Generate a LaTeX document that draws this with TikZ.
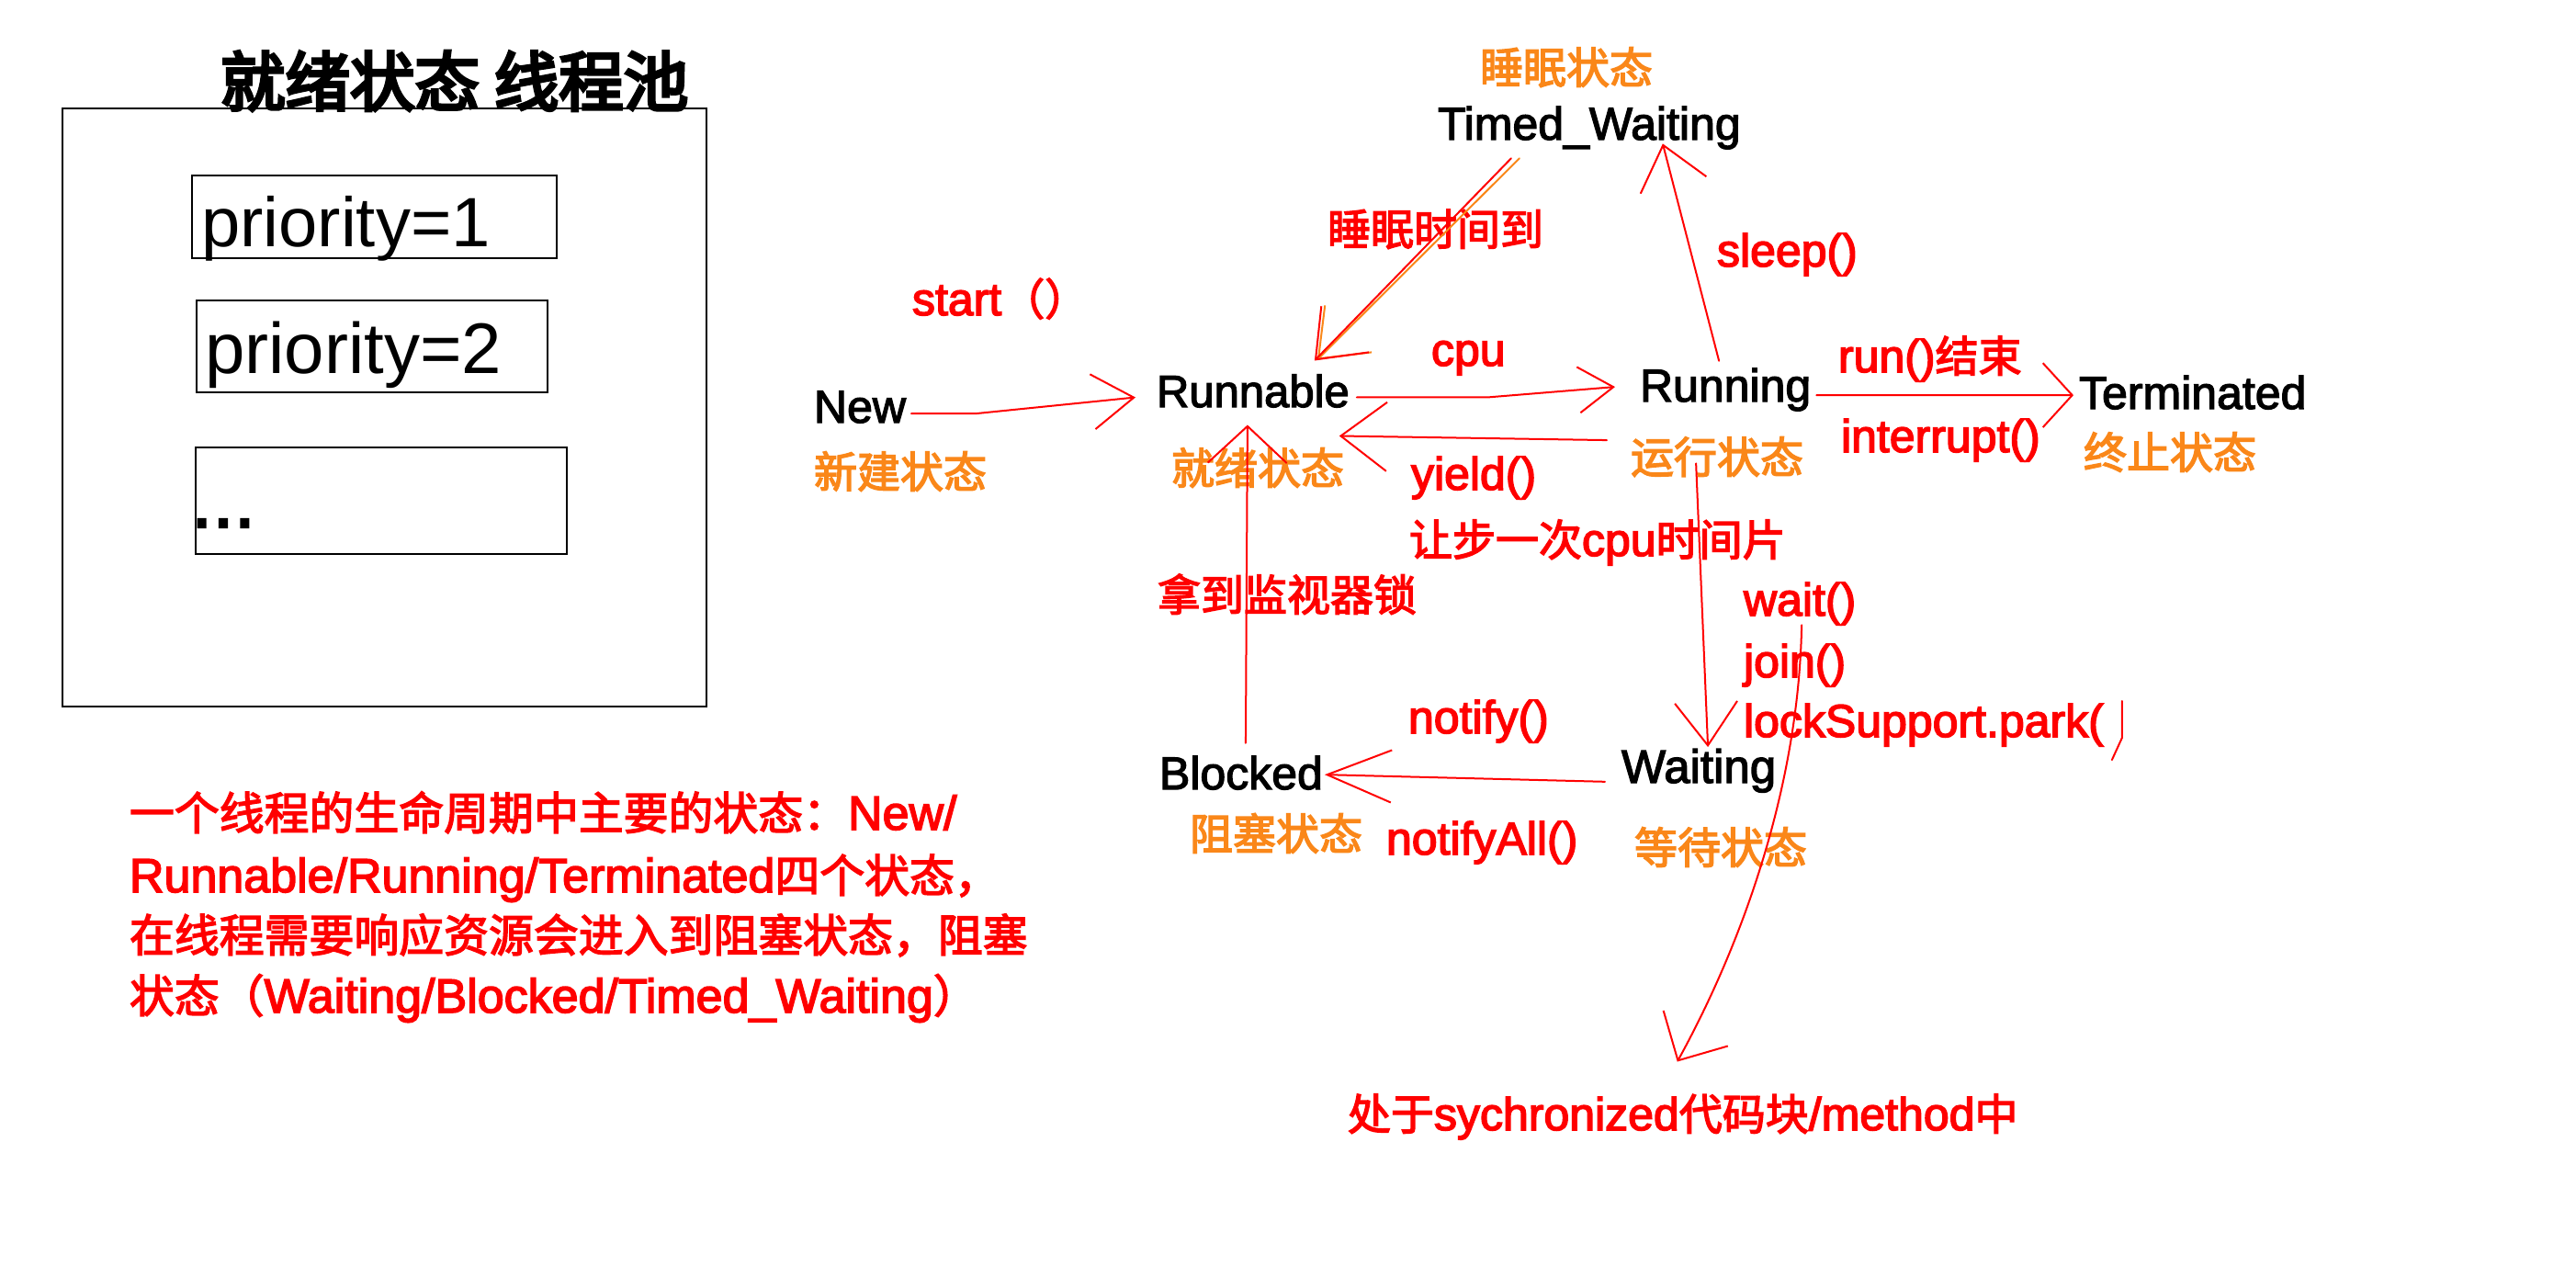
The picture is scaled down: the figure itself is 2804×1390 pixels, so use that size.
\documentclass[tikz,border=0pt]{standalone}
\usepackage{fontspec}
\setmainfont{Liberation Sans}
\newfontfamily\latm[FakeBold=3]{Liberation Sans}
\newfontfamily\latb[FakeBold=2.5]{Liberation Sans}
\newfontfamily\zhf[Scale=0.94,FakeBold=3]{Noto Sans CJK SC}
\newfontfamily\zhtitle[Scale=0.94,FakeBold=5]{Noto Sans CJK SC}
\usetikzlibrary{arrows.meta,calc}
\definecolor{hred}{RGB}{255,0,0}
\definecolor{horange}{RGB}{250,135,25}
\newcommand\zh[1]{{\zhf #1}}
\newcommand\setfs[1]{\fontsize{#1}{#1}\selectfont}
\begin{document}
\begin{tikzpicture}[x=1pt,y=-1pt,
  every node/.style={inner sep=0pt, outer sep=0pt, anchor=base west},
  state/.style={font={\latb\setfs{50}}, text=black},
  cnlab/.style={font={\zhf\setfs{50}}, text=horange},
  rlab/.style={font={\latm\setfs{50}}, text=hred},
  rzh/.style={font={\zhf\setfs{50}}, text=hred},
  para/.style={font={\latm\setfs{52}}, text=hred},
  boxnode/.style={draw=black, line width=2.2pt, anchor=north west},
  wire/.style={draw=hred, line width=2pt, line cap=round, line join=round},
  owire/.style={draw=horange, line width=2pt, line cap=round, line join=round},
  barb/.style 2 args={-{Straight Barb[length=#1pt,width=#2pt]}}
]
\fill[white] (0,0) rectangle (2804,1390);
\useasboundingbox (0,0) rectangle (2804,1390);

% ---- ready-state thread pool ----
\node[font={\zhtitle\setfs{75}}] (title) at (240,115) {就绪状态 线程池};
\node[boxnode, minimum width=701pt, minimum height=651pt] (pool) at (68,118) {};
\node[boxnode, minimum width=397pt, minimum height=90pt] (box1) at (209,191) {};
\node[boxnode, minimum width=382pt, minimum height=100pt] (box2) at (214,327) {};
\node[boxnode, minimum width=404pt, minimum height=116pt] (box3) at (213,487) {};
\node[font={\setfs{76}}] (p1) at (219,268) {priority=1};
\node[font={\setfs{78}}] (p2) at (223,406) {priority=2};
\node[font={\latb\setfs{84}}] (p3) at (208,574) {...};

% ---- states ----
\node[state] (new) at (886,460) {New};
\node[state, font={\latb\setfs{49}}] (runnable) at (1259,443) {Runnable};
\node[state] (running) at (1785,437) {Running};
\node[state] (terminated) at (2263,445) {Terminated};
\node[state] (timed) at (1565,152) {Timed\_Waiting};
\node[state, font={\latb\setfs{51}}] (waiting) at (1765,852) {Waiting};
\node[state] (blocked) at (1262,859) {Blocked};

% ---- orange state names ----
\node[cnlab] (sleepstate) at (1611,91) {睡眠状态};
\node[cnlab] (newstate) at (886,531) {新建状态};
\node[cnlab] (readystate) at (1275,527) {就绪状态};
\node[cnlab] (runstate) at (1775,515) {运行状态};
\node[cnlab] (termstate) at (2268,510) {终止状态};
\node[cnlab] (blockstate) at (1295,925) {阻塞状态};
\node[cnlab] (waitstate) at (1779,940) {等待状态};

% ---- red transition labels ----
\node[rlab] (start) at (993,343) {start\zh{（）}};
\node[rzh] (sleeptime) at (1445,267) {睡眠时间到};
\node[rlab] (cpu) at (1558,398) {cpu};
\node[rlab] (sleep) at (1869,290) {sleep()};
\node[rlab] (runend) at (2001,405) {run()\zh{结束}};
\node[rlab] (interrupt) at (2004,492) {interrupt()};
\node[rlab] (yield) at (1536,533) {yield()};
\node[rzh] (yieldtext) at (1534,605) {让步一次{\latm cpu}时间片};
\node[rzh] (lock) at (1260,665) {拿到监视器锁};
\node[rlab] (wait) at (1898,670) {wait()};
\node[rlab] (join) at (1898,737) {join()};
\node[rlab] (park) at (1898,802) {lockSupport.park(};
\node[rlab] (notify) at (1533,798) {notify()};
\node[rlab] (notifyall) at (1509,930) {notifyAll()};
\node[rzh] (sync) at (1467,1230) {处于{\latm sychronized}代码块{\latm /method}中};

% ---- paragraph ----
\node[para] (para1) at (141,903) {\zh{一个线程的生命周期中主要的状态：}New/};
\node[para] (para2) at (141,971) {Runnable/Running/Terminated\zh{四个状态，}};
\node[para] (para3) at (141,1036) {\zh{在线程需要响应资源会进入到阻塞状态，阻塞}};
\node[para] (para4) at (141,1102) {\zh{状态（}Waiting/Blocked/Timed\_Waiting\zh{）}};

% ---- connectors ----
\draw[wire, barb={45}{60}] ([shift={(6,7)}]new.east) -- ([shift={(77,7)}]new.east) -- ([shift={(-23,7)}]runnable.west);
\draw[wire, barb={38}{50}] ([shift={(8,7)}]runnable.east) -- ([shift={(150,7)}]runnable.east) -- ([shift={(-27,-3)}]running.west);
\draw[wire, barb={50}{75}] ([shift={(-36,55)}]running.west) -- ([shift={(-11,49)}]runnable.east);
\draw[wire, barb={32}{70}] ([shift={(6,6)}]running.east) -- ([shift={(-6,3)}]terminated.west);
\draw[wire, barb={45}{74}] ([shift={(-7,-8)}]running.north) -- ([shift={(80,-6)}]timed.south);
\draw[owire, barb={46}{72}] ([shift={(-76,10)}]timed.south) -- ([shift={(70,-16)}]runnable.north);
\draw[wire, barb={46}{72}] ([shift={(-85,10)}]timed.south) -- ([shift={(67,-15)}]runnable.north);
\draw[wire, barb={47}{68}] ([shift={(-32,57)}]running.south) -- ([shift={(10,-2)}]waiting.north);
\draw[wire, barb={70}{57}] ([shift={(-18,12)}]waiting.west) -- ([shift={(2,2)}]blocked.east);
\draw[wire, barb={40}{86}] ([shift={(5,-14)}]blocked.north) -- ([shift={(-6,19)}]runnable.south);
\draw[wire, barb={40}{80}] ([shift={(2,0)}]wait.south) .. controls ([shift={(-1,170)}]wait.south) and ([shift={(-59,340)}]wait.south) .. ([shift={(-6,-35)}]sync.north);
\draw[wire] ([shift={(20,-26)}]park.east) -- ([shift={(20,14)}]park.east) -- ([shift={(9,38)}]park.east);
\end{tikzpicture}
\end{document}
